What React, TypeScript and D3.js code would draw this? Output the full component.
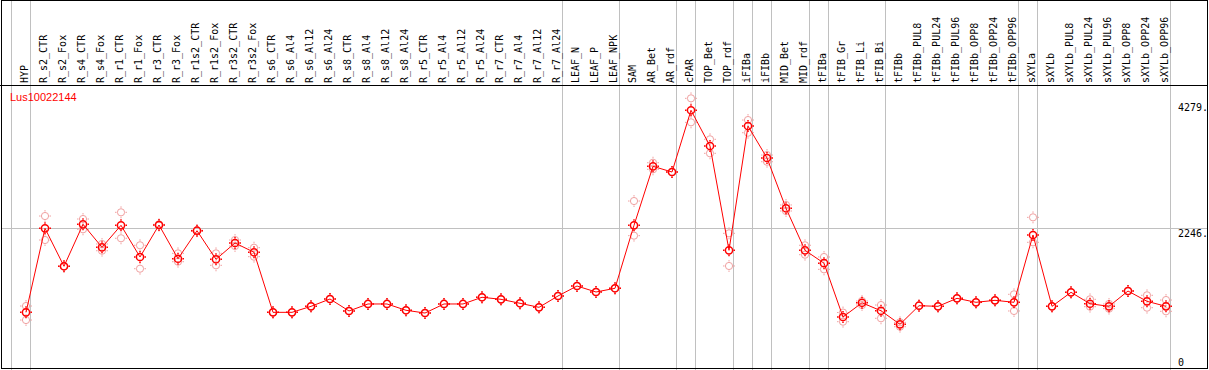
import React from 'react';
import {scaleLinear, scalePoint, line} from 'd3';

const geneId = 'Lus10022144';

const categories = [
  'HYP', 'R_s2_CTR', 'R_s2_Fox', 'R_s4_CTR', 'R_s4_Fox', 'R_r1_CTR', 'R_r1_Fox', 'R_r3_CTR', 'R_r3_Fox',
  'R_r1s2_CTR', 'R_r1s2_Fox', 'R_r3s2_CTR', 'R_r3s2_Fox', 'R_s6_CTR', 'R_s6_Al4', 'R_s6_Al12', 'R_s6_Al24',
  'R_s8_CTR', 'R_s8_Al4', 'R_s8_Al12', 'R_s8_Al24', 'R_r5_CTR', 'R_r5_Al4', 'R_r5_Al12', 'R_r5_Al24',
  'R_r7_CTR', 'R_r7_Al4', 'R_r7_Al12', 'R_r7_Al24', 'LEAF_N', 'LEAF_P', 'LEAF_NPK', 'SAM', 'AR_Bet', 'AR_rdf',
  'cPAR', 'TOP_Bet', 'TOP_rdf', 'iFIBa', 'iFIBb', 'MID_Bet', 'MID_rdf', 'tFIBa', 'tFIB_Gr', 'tFIB_Li', 'tFIB_Bi',
  'tFIBb', 'tFIBb_PUL8', 'tFIBb_PUL24', 'tFIBb_PUL96', 'tFIBb_OPP8', 'tFIBb_OPP24', 'tFIBb_OPP96', 'sXYLa',
  'sXYLb', 'sXYLb_PUL8', 'sXYLb_PUL24', 'sXYLb_PUL96', 'sXYLb_OPP8', 'sXYLb_OPP24', 'sXYLb_OPP96'
];

// mean expression per sample
const meanValues = [
  890, 2246, 1633, 2310, 1939, 2294, 1783, 2299, 1755,
  2207, 1746, 2009, 1859, 890, 890, 987, 1105,
  912, 1025, 1025, 923, 879, 1025, 1025, 1133,
  1100, 1036, 971, 1154, 1315, 1218, 1278, 2294, 3246, 3154,
  4150, 3574, 1891, 3896, 3380, 2569, 1891, 1683, 815, 1044, 915,
  697, 997, 987, 1116, 1052, 1084, 1052, 2138,
  987, 1213, 1029, 987, 1234, 1068, 987
];

// replicates (upper / lower)
const repHigh = [
  992, 2444, 1633, 2396, 1993, 2504, 1972, 2310, 1842,
  2215, 1842, 2057, 1933, 890, 890, 987, 1105,
  912, 1025, 1025, 923, 879, 1025, 1025, 1133,
  1100, 1036, 971, 1154, 1315, 1218, 1278, 2686, 3304, 3154,
  4343, 3682, 2165, 3993, 3428, 2622, 1972, 1783, 887, 1073, 1008,
  729, 997, 987, 1116, 1052, 1084, 1181, 2423,
  987, 1213, 1100, 1025, 1234, 1165, 1089
];

const repLow = [
  766, 2057, 1633, 2230, 1884, 2085, 1594, 2290, 1707,
  2200, 1649, 1960, 1788, 890, 890, 987, 1105,
  912, 1025, 1025, 923, 879, 1025, 1025, 1133,
  1100, 1036, 971, 1154, 1315, 1218, 1278, 2127, 3198, 3154,
  3956, 3456, 1638, 3788, 3320, 2525, 1820, 1584, 739, 1008, 794,
  658, 997, 987, 1116, 1052, 1084, 912, 2020,
  987, 1213, 981, 949, 1234, 965, 907
];

const axisTicks = [4279, 2246, 0];
const tickLabels = ['4279.', '2246.', '0'];
const gridTicks = [2246];

// samples after which a group separator is drawn
const groupEnds = ['HYP', 'R_r7_Al24', 'LEAF_NPK', 'AR_rdf', 'cPAR', 'TOP_rdf', 'iFIBa', 'iFIBb',
  'MID_rdf', 'tFIBa', 'tFIB_Bi', 'tFIBb_OPP96', 'sXYLa', 'sXYLb_OPP96'];

const W = 1209, H = 370;
const headerY = 85.5;
const mono = 'DejaVu Sans Mono, monospace';

const Marker = ({x, y, color, sw}: {x: number, y: number, color: string, sw: number}) => (
  <g stroke={color} fill="none" strokeWidth={sw}>
    <circle cx={x} cy={y} r={3.6}/>
    <line x1={x} x2={x} y1={y - 4.5} y2={y - 6}/>
    <line x1={x} x2={x} y1={y + 4.5} y2={y + 6}/>
    <line x1={x - 4.5} x2={x - 6} y1={y} y2={y}/>
    <line x1={x + 4.5} x2={x + 6} y1={y} y2={y}/>
  </g>
)

const App = () => {
  const xScale = scalePoint<string>()
    .domain(categories)
    .range([26, 1166])

  const yScale = scaleLinear()
    .domain([0, 4279])
    .range([367.5, 102.3])

  const step = xScale.step()
  const sepX = [xScale(categories[0])! - step, ...groupEnds.map(c => xScale(c)!)].map(v => Math.round(v + 4) + 0.5)

  const path = line<number>()
    .x((d, i) => xScale(categories[i])!)
    .y(d => yScale(d))(meanValues)

  return (
    <svg width={W} height={H} style={{position: 'absolute', left: 0, top: 0, background: '#fff'}}>
      <rect x={0} y={0} width={W} height={H} fill="#fff"/>
      {sepX.map((x, i) => (
        <line key={i} x1={x} x2={x} y1={0} y2={H} stroke="#c0c0c0" strokeWidth={1}/>
      ))}
      {gridTicks.map(t => (
        <line key={t} x1={2} x2={1207} y1={Math.round(yScale(t)) + 0.5} y2={Math.round(yScale(t)) + 0.5} stroke="#c0c0c0"/>
      ))}
      <line x1={0} x2={1208} y1={headerY} y2={headerY} stroke="#000"/>
      <rect x={1.5} y={0.5} width={1206} height={368} fill="none" stroke="#000"/>

      {categories.map(c => (
        <text key={c} transform={`translate(${xScale(c)! + 2},83) rotate(-90)`}
          fontFamily={mono} fontSize={10} fill="#000">{c}</text>
      ))}

      {axisTicks.map((t, i) => (
        <text key={t} x={1178} y={Math.min(yScale(t) + 8.5, 365.5)} fontFamily={mono} fontSize={10} fill="#000">{tickLabels[i]}</text>
      ))}

      <text x={10} y={101} fontFamily="Liberation Sans, Arial, sans-serif" fontSize={11} fill="#ff0000">{geneId}</text>

      {categories.map((c, i) => (
        <g key={c}>
          <Marker x={xScale(c)!} y={yScale(repHigh[i])} color="#f0a0a0" sw={1}/>
          <Marker x={xScale(c)!} y={yScale(repLow[i])} color="#f0a0a0" sw={1}/>
        </g>
      ))}
      <path d={path!} fill="none" stroke="#ff0000" strokeWidth={1}/>
      {categories.map((c, i) => (
        <Marker key={c} x={xScale(c)!} y={yScale(meanValues[i])} color="#ff0000" sw={1.5}/>
      ))}
    </svg>
  )
}

export default App;
